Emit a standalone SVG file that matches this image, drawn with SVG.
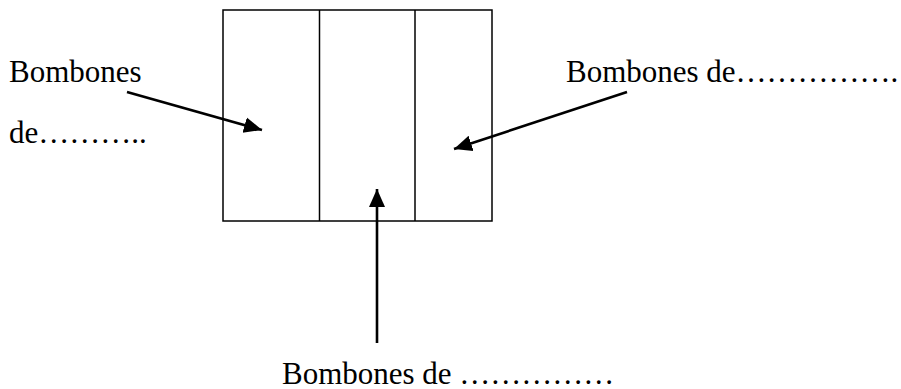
<svg xmlns="http://www.w3.org/2000/svg" width="901" height="389" viewBox="0 0 901 389">
<style>
.t{font-family:"Liberation Serif","Times New Roman",serif;font-size:31px;fill:#000}
.box{fill:none;stroke:#000;stroke-width:1.5}
.arr{stroke:#000;stroke-width:2.6;fill:none}
</style>
<defs>
<marker id="ah" markerUnits="userSpaceOnUse" markerWidth="20" markerHeight="18" refX="18" refY="8" orient="auto" viewBox="0 0 20 16">
<path d="M0,0 L18,8 L0,16 Z" fill="#000"/>
</marker>
</defs>
<g id="box">
<rect class="box" x="223" y="10" width="269" height="211"/>
<line class="box" x1="319.5" y1="10" x2="319.5" y2="221"/>
<line class="box" x1="415" y1="10" x2="415" y2="221"/>
</g>
<g id="label-left">
<text class="t" x="9" y="82">Bombones</text>
<text class="t" x="9" y="143">de………..</text>
</g>
<g id="label-right">
<text class="t" x="566" y="82">Bombones de…………….</text>
</g>
<g id="label-bottom">
<text class="t" x="282" y="384">Bombones de ……………</text>
</g>
<g id="connectors">
<line class="arr" x1="127" y1="92" x2="262" y2="130" marker-end="url(#ah)"/>
<line class="arr" x1="627" y1="92" x2="454" y2="149" marker-end="url(#ah)"/>
<line class="arr" x1="377" y1="343" x2="377" y2="189" marker-end="url(#ah)"/>
</g>
</svg>
